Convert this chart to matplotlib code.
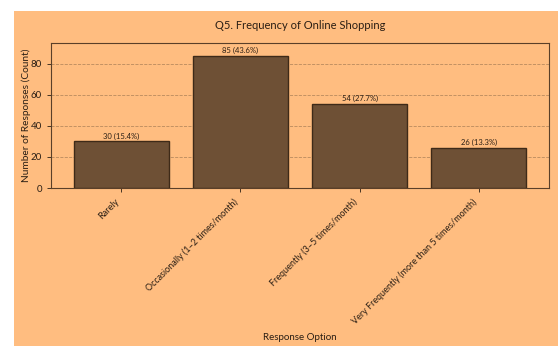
import matplotlib
matplotlib.use("Agg")
import matplotlib.pyplot as plt
from matplotlib.patches import Rectangle

categories = [
    "Rarely",
    "Occasionally (1\u20132 times/month)",
    "Frequently (3\u20135 times/month)",
    "Very Frequently (more than 5 times/month)",
]
counts = [30, 85, 54, 26]
percents = [15.4, 43.6, 27.7, 13.3]

BG = "#FFBD80"
BAR = "#6E5035"
EDGE = "#3E2A18"
TEXT = "#2A1E14"

plt.rcParams["font.family"] = ["Lato", "DejaVu Sans"]

fig = plt.figure(figsize=(5.58, 3.46), dpi=100)
fig.patch.set_facecolor("white")
fig.patches.append(Rectangle((14 / 558, 0), 1, (346 - 11) / 346,
                             transform=fig.transFigure, facecolor=BG,
                             edgecolor="none", zorder=-10))

ax = fig.add_axes([51 / 558, (346 - 188) / 346, (549 - 51) / 558, (188 - 43) / 346])
ax.set_facecolor(BG)

x = range(len(categories))
bars = ax.bar(x, counts, width=0.8, color=BAR, edgecolor=EDGE, linewidth=1.0, zorder=3)
for b, c, p in zip(bars, counts, percents):
    ax.text(b.get_x() + b.get_width() / 2, c + 1.2, f"{c} ({p}%)",
            ha="center", va="bottom", fontsize=5.5, color=TEXT, zorder=4)

ax.set_ylim(0, max(counts) * 1.1)
ax.set_yticks([0, 20, 40, 60, 80])
ax.yaxis.grid(True, linestyle="--", linewidth=0.6, color="#B98A5E", zorder=0)
ax.set_axisbelow(True)

ax.set_xticks(list(x))
ax.set_xticklabels(categories, rotation=45, ha="right", fontsize=6.5, color=TEXT)
ax.tick_params(axis="y", labelsize=7, colors=TEXT, length=3, width=0.6)
ax.tick_params(axis="x", length=3, width=0.6, colors=TEXT)
for s in ax.spines.values():
    s.set_color("#5A3F28")
    s.set_linewidth(0.8)

ax.set_title("Q5. Frequency of Online Shopping", fontsize=8, color=TEXT, pad=10)
ax.set_ylabel("Number of Responses (Count)", fontsize=7.3, color=TEXT)
ax.yaxis.set_label_coords(-0.040, 0.5)
fig.text(300 / 558, 1 - 338 / 346, "Response Option", ha="center", va="center",
         fontsize=7, color=TEXT)

fig.savefig("out.png", dpi=100, facecolor=fig.get_facecolor())
